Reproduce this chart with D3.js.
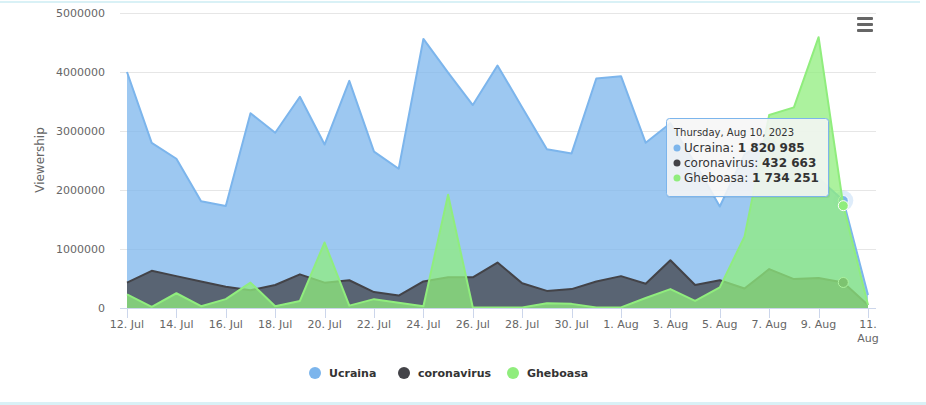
<!DOCTYPE html>
<html>
<head>
<meta charset="utf-8">
<script src="https://cdn.jsdelivr.net/npm/d3@7"></script>
<style>
  body { margin: 0; background: #fff; }
  svg { display: block; font-family: "DejaVu Sans", Verdana, sans-serif; }
</style>
</head>
<body>
<svg id="chart" width="926" height="405"></svg>
<script>
// daily values, 12 Jul 2023 .. 11 Aug 2023
const startDate = "2023-07-12"
const seriesNames = ["Ucraina", "coronavirus", "Gheboasa"]
const seriesColors = ["#7cb5ec", "#434348", "#90ed7d"]

const ucraina = [
  4000000, 2800000, 2530000, 1810000, 1730000, 3300000, 2970000, 3580000,
  2770000, 3850000, 2650000, 2360000, 4560000, 3990000, 3440000, 4110000,
  3400000, 2690000, 2620000, 3890000, 3930000, 2800000, 3130000, 2450000,
  1720000, 2600000, 2900000, 2500000, 2200000, 1820985, 220000
]
const coronavirus = [
  430000, 630000, 540000, 450000, 360000, 300000, 390000, 570000,
  430000, 470000, 270000, 210000, 450000, 520000, 520000, 770000,
  420000, 290000, 320000, 450000, 540000, 410000, 810000, 390000,
  470000, 330000, 660000, 490000, 510000, 432663, 50000
]
const gheboasa = [
  230000, 20000, 250000, 30000, 150000, 430000, 30000, 120000,
  1110000, 40000, 150000, 90000, 30000, 1920000, 10000, 10000,
  10000, 80000, 70000, 10000, 10000, 170000, 320000, 120000,
  350000, 1210000, 3270000, 3400000, 4590000, 1734251, 50000
]
const yTicks = [0, 1000000, 2000000, 3000000, 4000000, 5000000]
const hoverIndex = 29

const allSeries = [ucraina, coronavirus, gheboasa]
const parse = d3.timeParse("%Y-%m-%d")
const dates = d3.range(ucraina.length).map(i => d3.timeDay.offset(parse(startDate), i))

const svg = d3.select("#chart")

// frame lines
svg.append("rect").attr("x", 0).attr("y", 1).attr("width", 920).attr("height", 2).attr("fill", "#d9f1f6")
svg.append("rect").attr("x", 0).attr("y", 402).attr("width", 926).attr("height", 3).attr("fill", "#d9f1f6")

const plotLeft = 120, plotRight = 876
const x = d3.scaleTime().domain([dates[0], dates[dates.length - 1]]).range([127, 868])
const y = d3.scaleLinear().domain([0, 5000000]).range([308, 13])

// grid
svg.append("g").selectAll("line").data(yTicks.slice(1)).join("line")
  .attr("x1", plotLeft).attr("x2", plotRight)
  .attr("y1", d => Math.round(y(d)) + 0.5).attr("y2", d => Math.round(y(d)) + 0.5)
  .attr("stroke", "#e6e6e6")

// y labels
svg.append("g").selectAll("text").data(yTicks).join("text")
  .attr("x", 105).attr("y", d => y(d) + 4)
  .attr("text-anchor", "end")
  .attr("fill", "#666").style("font-size", "11px")
  .text(d => d)

svg.append("text")
  .attr("transform", `translate(44,160) rotate(-90)`)
  .attr("text-anchor", "middle")
  .attr("fill", "#666").style("font-size", "12px")
  .text("Viewership")

// series
const area = d3.area().x((d, i) => x(dates[i])).y0(y(0)).y1(d => y(d))
const line = d3.line().x((d, i) => x(dates[i])).y(d => y(d))

allSeries.forEach((values, s) => {
  const g = svg.append("g")
  g.append("path").attr("d", area(values))
    .attr("fill", seriesColors[s]).attr("fill-opacity", 0.75)
  g.append("path").attr("d", line(values))
    .attr("fill", "none").attr("stroke", seriesColors[s]).attr("stroke-width", 2)
    .attr("stroke-linejoin", "round")
  const px = x(dates[hoverIndex]), py = y(values[hoverIndex])
  if (s === 0) {
    g.append("circle").attr("cx", px).attr("cy", py).attr("r", 10)
      .attr("fill", seriesColors[s]).attr("fill-opacity", 0.25)
  }
  g.append("circle").attr("cx", px).attr("cy", py).attr("r", 5)
    .attr("fill", seriesColors[s]).attr("stroke", "#fff").attr("stroke-width", 1)
})

// x axis
svg.append("line").attr("x1", plotLeft).attr("x2", plotRight)
  .attr("y1", 308.5).attr("y2", 308.5).attr("stroke", "#ccd6eb")

const xTicks = dates.filter((d, i) => i % 2 === 0)
const fmt = d3.timeFormat("%-d. %b")
const xg = svg.append("g")
xg.selectAll("line").data(xTicks).join("line")
  .attr("x1", d => Math.round(x(d)) + 0.5).attr("x2", d => Math.round(x(d)) + 0.5)
  .attr("y1", 308).attr("y2", 318).attr("stroke", "#ccd6eb")
xg.selectAll("text").data(xTicks).join("text")
  .attr("x", d => x(d)).attr("y", 328)
  .attr("text-anchor", "middle")
  .attr("fill", "#666").style("font-size", "11px")
  .each(function (d, i) {
    const label = fmt(d)
    const t = d3.select(this)
    if (i === xTicks.length - 1) {
      const parts = label.split(" ")
      t.append("tspan").attr("x", x(d)).text(parts[0])
      t.append("tspan").attr("x", x(d)).attr("dy", 14).text(parts[1])
    } else {
      t.text(label)
    }
  })

// legend
const legendX = [315, 404, 513]
const legend = svg.append("g")
seriesNames.forEach((name, s) => {
  legend.append("circle").attr("cx", legendX[s]).attr("cy", 373).attr("r", 6)
    .attr("fill", seriesColors[s])
  legend.append("text").attr("x", legendX[s] + 14).attr("y", 377)
    .attr("fill", "#333").style("font-size", "11px").style("font-weight", "bold")
    .text(name)
})

// menu icon
svg.append("g").selectAll("rect").data([0, 1, 2]).join("rect")
  .attr("x", 857).attr("y", d => 17 + d * 6).attr("width", 16).attr("height", 3)
  .attr("rx", 1).attr("fill", "#666")

// tooltip
const tip = svg.append("g").attr("transform", "translate(666,118)")
tip.append("rect").attr("x", 1).attr("y", 1).attr("width", 163).attr("height", 79)
  .attr("rx", 3).attr("fill", "#000").attr("fill-opacity", 0.06)
tip.append("rect").attr("x", 0.5).attr("y", 0.5).attr("width", 162).attr("height", 78)
  .attr("rx", 3).attr("fill", "#f7f7f7").attr("fill-opacity", 0.88)
  .attr("stroke", "#7cb5ec").attr("stroke-width", 1)
tip.append("text").attr("x", 8).attr("y", 18)
  .attr("fill", "#333").style("font-size", "10px")
  .text(d3.timeFormat("%A, %b %-d, %Y")(dates[hoverIndex]))
const fmtNum = v => d3.format(",")(v).replace(/,/g, " ")
seriesNames.forEach((name, s) => {
  const row = 34 + s * 15
  tip.append("circle").attr("cx", 11).attr("cy", row - 4).attr("r", 3.5).attr("fill", seriesColors[s])
  const t = tip.append("text").attr("x", 18).attr("y", row)
    .attr("fill", "#333").style("font-size", "12px")
  t.append("tspan").text(name + ": ")
  t.append("tspan").style("font-weight", "bold").text(fmtNum(allSeries[s][hoverIndex]))
})
</script>
</body>
</html>
